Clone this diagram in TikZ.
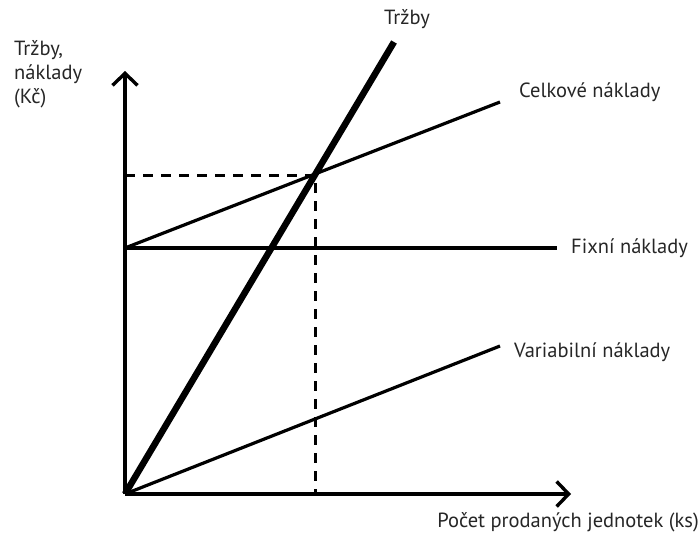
\documentclass[tikz,border=0pt]{standalone}
\usepackage{fontspec}
\setmainfont{PT Sans}
\usetikzlibrary{arrows.meta}
\begin{document}
\begin{tikzpicture}[x=1pt,y=-1pt,
  axis/.style={line width=3.4pt,-{Straight Barb[length=12pt,width=25pt,line width=3.4pt]}},
  cost/.style={line width=3.2pt},
  rev/.style={line width=6.5pt},
  guide/.style={line width=3pt,dash pattern=on 10pt off 8pt},
  lbl/.style={font=\fontsize{20.5}{24}\selectfont,text=black!85,inner sep=0pt}]
\useasboundingbox (0,0) rectangle (700,536);
\coordinate (O) at (125,494);
\coordinate (ytip) at (125,71);
\coordinate (xtip) at (571,494);
\coordinate (F) at (125,248);
\coordinate (Fend) at (557,248);
\coordinate (Cend) at (500,102);
\coordinate (Vend) at (500,346);
\coordinate (Tend) at (394,42);
\coordinate (BE) at (315,175);
\coordinate (BEy) at (125,175);
\coordinate (BEx) at (315,494);
\draw[guide] (BEy) -- (BE) -- (BEx);
\draw[cost] (F) -- (Fend);
\draw[cost] (F) -- (Cend);
\draw[cost] (O) -- (Vend);
\draw[rev] (O) -- (Tend);
\draw[axis] (O) -- (ytip);
\draw[axis] (O) -- (xtip);
\node[lbl,anchor=west] (ly) at (14,75) {\begin{tabular}{@{}l@{}}Tržby,\\[0pt]náklady\\[0pt](Kč)\end{tabular}};
\node[lbl] (lt) at (407,19) {Tržby};
\node[lbl,anchor=west] (lc) at (519,92) {Celkové náklady};
\node[lbl,anchor=west] (lf) at (571,248) {Fixní náklady};
\node[lbl,anchor=west] (lv) at (514,352) {Variabilní náklady};
\node[lbl,anchor=east] (lx) at (699,522) {Počet prodaných jednotek (ks)};
\end{tikzpicture}
\end{document}
